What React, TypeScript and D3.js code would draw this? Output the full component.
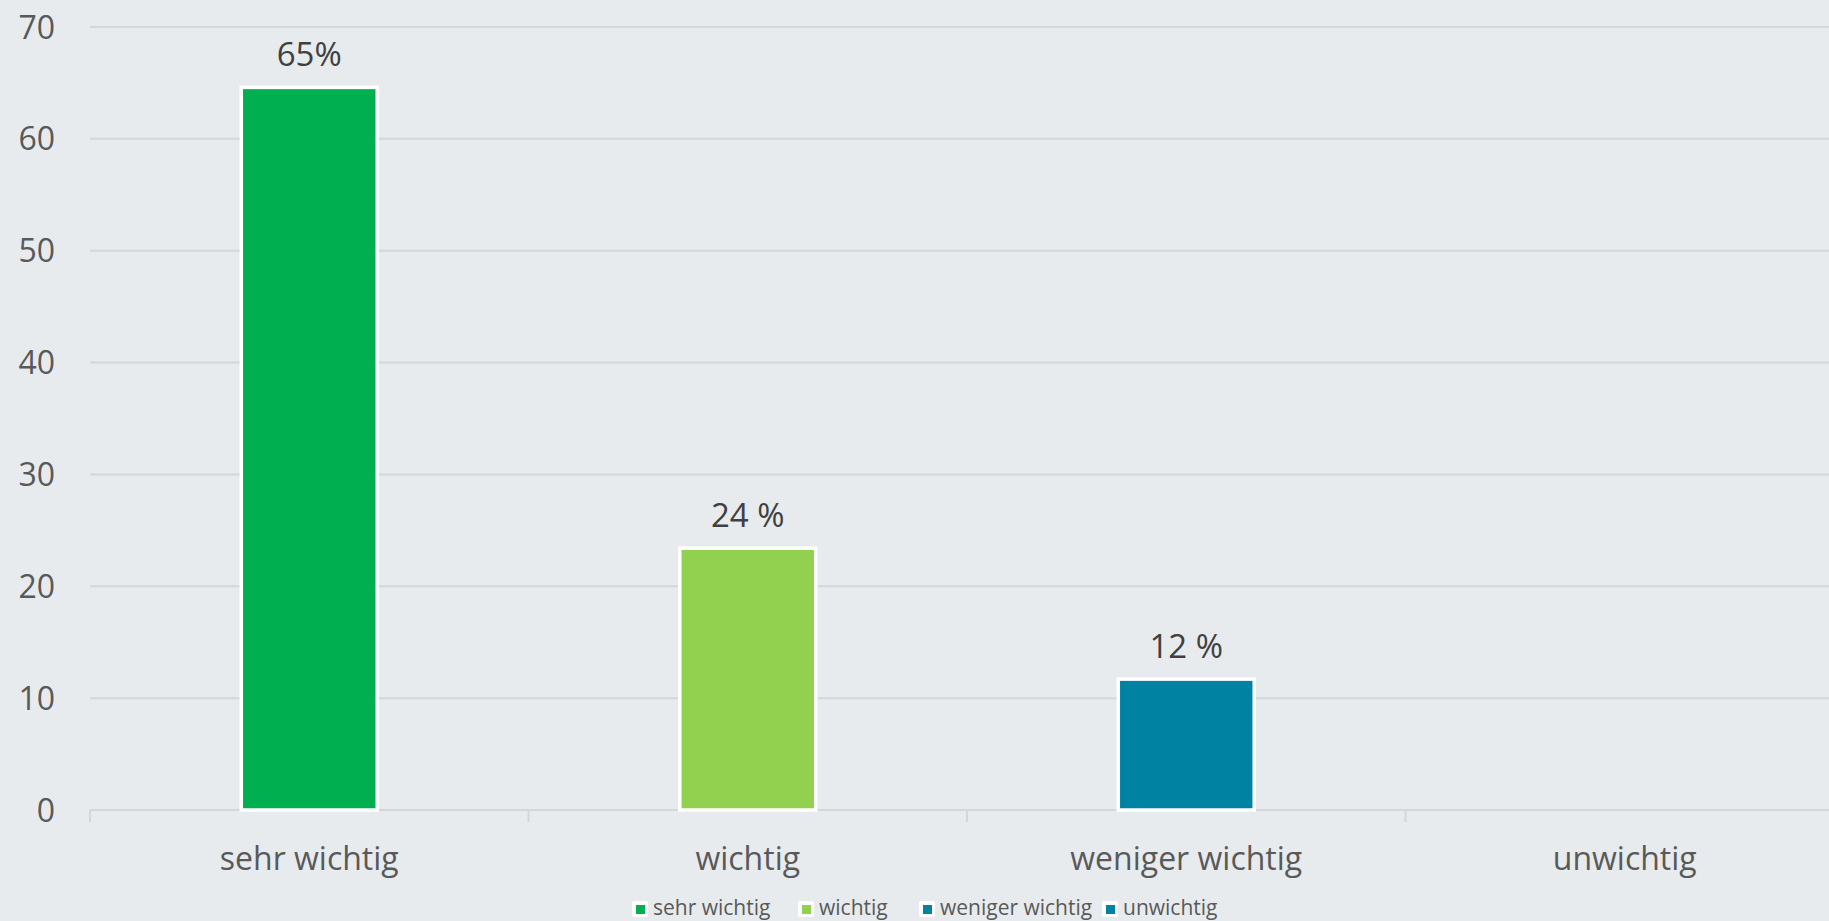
import React from "react";
import * as d3 from "d3";

const categories = ["sehr wichtig", "wichtig", "weniger wichtig", "unwichtig"];
const values = [64.6, 23.4, 11.7, 0];
const valueLabels = ["65%", "24 %", "12 %", ""];
const colors = ["#00b050", "#92d050", "#0083a3", "#0083a3"];
const yTicks = [0, 10, 20, 30, 40, 50, 60, 70];

const width = 1829;
const height = 921;
const left = 90;
const right = 1844; // plot runs past the right edge in the original
const top = 27;
const bottom = 810;
const font = "'Open Sans', sans-serif";

const x = d3.scaleBand<string>().domain(categories).range([left, right]).padding(0);
const y = d3.scaleLinear().domain([0, 70]).range([bottom, top]);
const barWidth = x.bandwidth() * 0.31;

// legend x positions (marker left edge)
const legendX = [632, 798, 919, 1102];

const App = () => {
  React.useEffect(() => {
    document.body.style.margin = "0";
  }, []);
  return (
    <svg width={width} height={height} style={{ display: "block", background: "#e8ebee" }}>
      <rect x={0} y={0} width={width} height={height} fill="#e8ebee" />
      {yTicks.map((t) => (
        <g key={t}>
          <line x1={left} x2={width} y1={y(t)} y2={y(t)} stroke="#d4d6d8" strokeWidth={2} />
          <text
            x={55}
            y={y(t)}
            dy="0.36em"
            textAnchor="end"
            fontFamily={font}
            fontSize={32}
            fill="#595959"
          >
            {t}
          </text>
        </g>
      ))}
      {[...categories.map((c) => x(c)!), right].map((xx, i) => (
        <line key={i} x1={xx} x2={xx} y1={bottom} y2={bottom + 12} stroke="#d4d6d8" strokeWidth={2} />
      ))}
      {categories.map((c, i) => {
        const cx = x(c)! + x.bandwidth() / 2;
        return (
          <g key={c}>
            {values[i] > 0 && (
              <rect
                x={cx - barWidth / 2}
                y={y(values[i])}
                width={barWidth}
                height={bottom - y(values[i])}
                fill={colors[i]}
                stroke="#ffffff"
                strokeWidth={3.5}
              />
            )}
            {valueLabels[i] && (
              <text
                x={cx}
                y={y(values[i]) - 21}
                textAnchor="middle"
                fontFamily={font}
                fontSize={33}
                fill="#404040"
              >
                {valueLabels[i]}
              </text>
            )}
            <text x={cx} y={870} textAnchor="middle" fontFamily={font} fontSize={32} fill="#595959">
              {c}
            </text>
          </g>
        );
      })}
      {categories.map((c, i) => (
        <g key={"lg" + c} transform={`translate(${legendX[i]},901)`}>
          <rect x={0} y={0} width={16} height={16} rx={2} fill="#ffffff" />
          <rect x={4} y={4} width={9} height={9} fill={colors[i]} />
          <text x={21} y={14} fontFamily={font} fontSize={21} fill="#595959">
            {c}
          </text>
        </g>
      ))}
    </svg>
  );
};

export default App;
